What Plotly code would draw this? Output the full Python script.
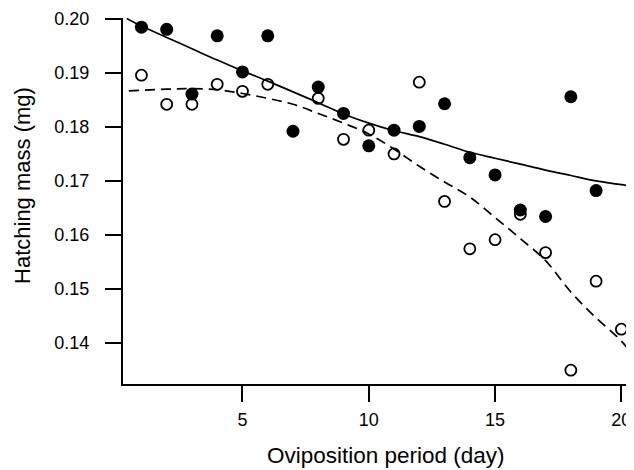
import plotly.graph_objects as go

# ---- data ----
days = list(range(1, 21))
filled_mass = [0.1985, 0.1981, 0.1861, 0.1969, 0.1902, 0.1969, 0.1792, 0.1874, 0.1825, 0.1765,
               0.1794, 0.1801, 0.1843, 0.1743, 0.1711, 0.1646, 0.1634, 0.1856, 0.1682, None]
open_mass = [0.1896, 0.1842, 0.1842, 0.1879, 0.1866, 0.1879, None, 0.1853, 0.1777, 0.1794,
             0.1750, 0.1883, 0.1662, 0.1574, 0.1591, 0.1638, 0.1567, 0.1349, 0.1514, 0.1425]

# fitted curves
solid_x = [0.42, 1, 2, 3, 4, 5, 6, 7, 8, 9, 10, 11, 12, 13, 14, 15, 16, 17, 18, 19, 20, 20.5]
solid_y = [0.2001, 0.1987, 0.1966, 0.1945, 0.1924, 0.1904, 0.1885, 0.1865, 0.1845, 0.1824, 0.1807,
           0.1793, 0.1782, 0.1768, 0.1753, 0.1742, 0.1731, 0.1720, 0.1710, 0.1700, 0.1693, 0.1689]
dashed_x = [0.5, 2, 3, 4, 5, 6, 7, 8, 9, 10, 11, 12, 13, 14, 15, 16, 17, 18, 19, 20, 20.5]
dashed_y = [0.1867, 0.1870, 0.1871, 0.1869, 0.1862, 0.1853, 0.1842, 0.1825, 0.1807, 0.1787, 0.1759,
            0.1727, 0.1698, 0.1670, 0.1632, 0.1593, 0.1552, 0.1494, 0.1446, 0.1403, 0.1374]

x_ticks = [5, 10, 15, 20]
y_ticks = [0.14, 0.15, 0.16, 0.17, 0.18, 0.19, 0.20]

FONT = "Liberation Sans, Arial, sans-serif"

fig = go.Figure()
fig.add_trace(go.Scatter(x=days, y=open_mass, mode="markers",
                         marker=dict(symbol="circle-open", size=11, color="black",
                                     line=dict(width=1.8, color="black")),
                         showlegend=False))
fig.add_trace(go.Scatter(x=days, y=filled_mass, mode="markers",
                         marker=dict(symbol="circle", size=13, color="black"),
                         showlegend=False))
fig.add_trace(go.Scatter(x=solid_x, y=solid_y, mode="lines",
                         line=dict(color="black", width=1.7, shape="spline"),
                         showlegend=False))
fig.add_trace(go.Scatter(x=dashed_x, y=dashed_y, mode="lines",
                         line=dict(color="black", width=1.7, dash="10px,6px", shape="spline"),
                         showlegend=False))

axis_common = dict(showline=True, linecolor="black", linewidth=2, ticks="outside",
                   ticklen=16, tickwidth=2, tickcolor="black", showgrid=False, zeroline=False,
                   tickfont=dict(family=FONT, size=18, color="black"))

fig.update_xaxes(range=[0.27, 20.5], tickvals=x_ticks, ticklabelstandoff=2, **axis_common)
fig.update_yaxes(range=[0.13234, 0.2002], tickvals=y_ticks, tickformat=".2f",
                 ticklabelstandoff=12, **axis_common)

fig.add_annotation(text="Oviposition period (day)", xref="paper", yref="paper",
                   x=0.5147, y=-0.194, xanchor="center", yanchor="middle", showarrow=False,
                   font=dict(family=FONT, size=22.5, color="black"))
fig.add_annotation(text="Hatching mass (mg)", xref="paper", yref="paper",
                   x=-0.1977, y=0.5437, xanchor="center", yanchor="middle", textangle=-90,
                   showarrow=False, font=dict(family=FONT, size=22, color="black"))

# page body has an 8px margin, so the figure is sized/margined to compensate
fig.update_layout(width=626, height=462, margin=dict(l=115, r=0, t=10, b=86),
                  plot_bgcolor="white", paper_bgcolor="white")

fig.write_html("out.html")
